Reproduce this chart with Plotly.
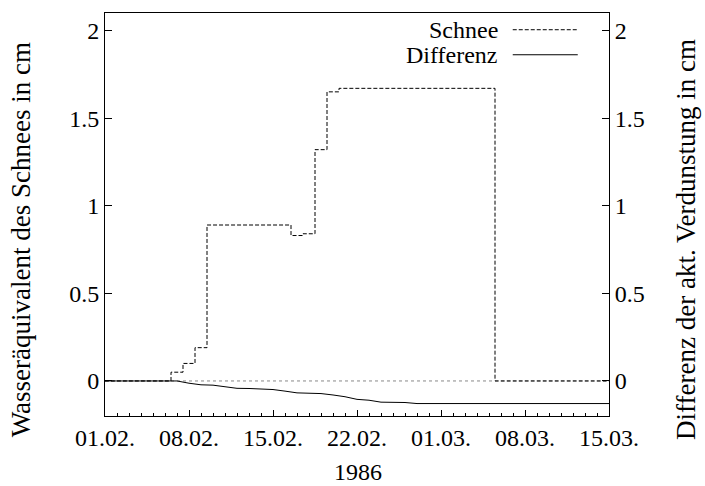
import pandas as pd
import plotly.graph_objects as go

# Daily series, 01.02.1986 - 15.03.1986
dates = pd.date_range("1986-02-01", "1986-03-15", freq="D")

# snow water equivalent in cm
schnee = [0, 0, 0, 0, 0, 0, 0.05, 0.10, 0.19,
          0.89, 0.89, 0.89, 0.89, 0.89, 0.89, 0.89,
          0.83, 0.84, 1.32, 1.65,
          1.67, 1.67, 1.67, 1.67, 1.67, 1.67, 1.67, 1.67, 1.67, 1.67, 1.67, 1.67, 1.67,
          0, 0, 0, 0, 0, 0, 0, 0, 0, 0]

# difference of actual evaporation in cm
differenz = [0, 0, 0, 0, 0, 0, 0, -0.013, -0.022, -0.024, -0.033,
             -0.042, -0.043, -0.044, -0.049, -0.058, -0.068, -0.070, -0.072,
             -0.080, -0.090, -0.105, -0.110, -0.121, -0.122, -0.123, -0.129,
             -0.129, -0.129, -0.129, -0.129, -0.129, -0.129, -0.129, -0.129,
             -0.129, -0.129, -0.129, -0.129, -0.129, -0.129, -0.129, -0.129]

y_ticks = [0, 0.5, 1, 1.5, 2]
y_labels = ["0", "0.5", "1", "1.5", "2"]

FONT = "Liberation Serif"
FS = 24
TITLE_FS = 27
DASH = "4px,2px"

fig = go.Figure()
fig.add_trace(go.Scatter(x=dates, y=schnee, mode="lines", line_shape="hvh",
                         line=dict(color="black", width=1, dash=DASH),
                         name="Schnee", yaxis="y"))
fig.add_trace(go.Scatter(x=dates, y=differenz, mode="lines",
                         line=dict(color="black", width=1),
                         name="Differenz", yaxis="y2"))

# dotted zero axis
fig.add_shape(type="line", xref="paper", yref="y", x0=0, x1=1, y0=0, y1=0,
              line=dict(color="#888888", width=1, dash="dot"), layer="below")

# legend drawn in gnuplot style (text right, sample on the right)
legend_items = [("Schnee", DASH, 0.9585), ("Differenz", "solid", 0.8964)]
for label, dash, ypos in legend_items:
    fig.add_annotation(x=0.783, y=ypos, xref="paper", yref="paper", text=label,
                       showarrow=False, xanchor="right", yanchor="middle",
                       font=dict(family=FONT, size=FS, color="black"))
    fig.add_shape(type="line", xref="paper", yref="paper", x0=0.809, x1=0.938,
                  y0=ypos, y1=ypos, line=dict(color="black", width=1, dash=dash))

# axis titles, placed on the canvas like gnuplot does
for text, xpos in [("Wasseräquivalent des Schnees in cm", -0.166),
                   ("Differenz der akt. Verdunstung in cm", 1.153)]:
    fig.add_annotation(x=xpos, y=0.437, xref="paper", yref="paper", text=text,
                       textangle=-90, showarrow=False, xanchor="center", yanchor="middle",
                       font=dict(family=FONT, size=TITLE_FS, color="black"))
fig.add_annotation(x=0.502, y=-0.139, xref="paper", yref="paper", text="1986",
                   showarrow=False, xanchor="center", yanchor="middle",
                   font=dict(family=FONT, size=FS, color="black"))

yaxis_common = dict(range=[-0.2, 2.1], tickvals=y_ticks, ticktext=y_labels,
                    ticks="inside", ticklen=7, tickcolor="black", showgrid=False,
                    zeroline=False, showline=True, linecolor="black", linewidth=1,
                    automargin=False,
                    tickfont=dict(family=FONT, size=FS, color="black"))

fig.update_layout(
    width=705, height=486,
    margin=dict(l=105, r=96, t=13, b=70),
    paper_bgcolor="white", plot_bgcolor="white",
    showlegend=False,
    font=dict(family=FONT, size=FS, color="black"),
    xaxis=dict(type="date", range=["1986-02-01", "1986-03-15"],
               tick0="1986-02-01", dtick=7 * 86400000, tickformat="%d.%m.",
               ticks="inside", ticklen=6, tickcolor="black",
               minor=dict(dtick=86400000, ticks="inside", ticklen=3, tickcolor="black"),
               showgrid=False, zeroline=False, showline=True, mirror=True,
               linecolor="black", linewidth=1, automargin=False,
               tickfont=dict(family=FONT, size=FS, color="black")),
    yaxis=dict(**yaxis_common),
    yaxis2=dict(**yaxis_common, overlaying="y", side="right"),
)

fig.write_html("out.html")
